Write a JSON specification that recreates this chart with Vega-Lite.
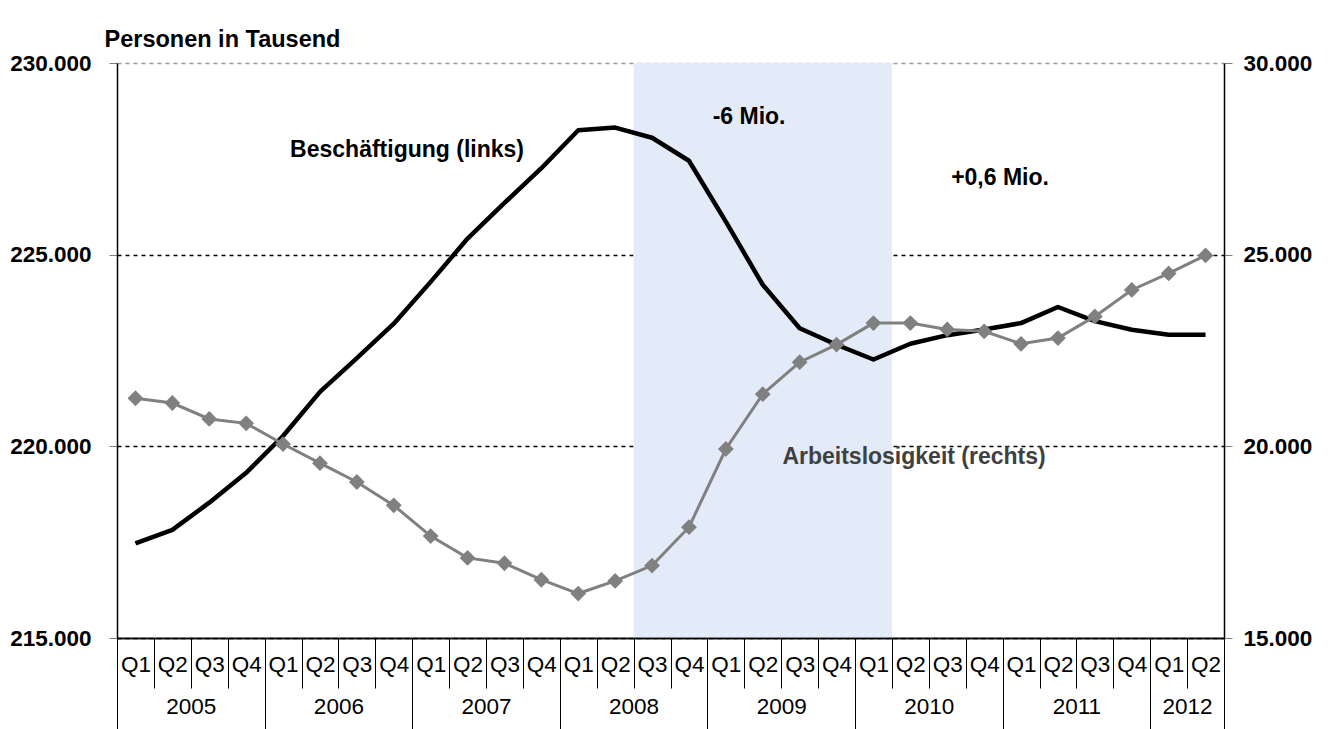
{
  "$schema": "https://vega.github.io/schema/vega-lite/v6.json",
  "width": 1107,
  "height": 575,
  "autosize": {"type": "none"},
  "padding": {"left": 117, "top": 63, "right": 106, "bottom": 91},
  "background": "white",
  "config": {
    "view": {"stroke": null},
    "font": "Liberation Sans",
    "text": {"font": "Liberation Sans", "fontWeight": "bold", "fontSize": 23}
  },
  "datasets": {
    "quartale": [
      {"idx": 0, "jahr": 2005, "quartal": "Q1", "beschaeftigung": 217470, "arbeitslosigkeit": 21255},
      {"idx": 1, "jahr": 2005, "quartal": "Q2", "beschaeftigung": 217820, "arbeitslosigkeit": 21130},
      {"idx": 2, "jahr": 2005, "quartal": "Q3", "beschaeftigung": 218530, "arbeitslosigkeit": 20715},
      {"idx": 3, "jahr": 2005, "quartal": "Q4", "beschaeftigung": 219310, "arbeitslosigkeit": 20600},
      {"idx": 4, "jahr": 2006, "quartal": "Q1", "beschaeftigung": 220270, "arbeitslosigkeit": 20060},
      {"idx": 5, "jahr": 2006, "quartal": "Q2", "beschaeftigung": 221420, "arbeitslosigkeit": 19560},
      {"idx": 6, "jahr": 2006, "quartal": "Q3", "beschaeftigung": 222300, "arbeitslosigkeit": 19070},
      {"idx": 7, "jahr": 2006, "quartal": "Q4", "beschaeftigung": 223200, "arbeitslosigkeit": 18460},
      {"idx": 8, "jahr": 2007, "quartal": "Q1", "beschaeftigung": 224290, "arbeitslosigkeit": 17660},
      {"idx": 9, "jahr": 2007, "quartal": "Q2", "beschaeftigung": 225420, "arbeitslosigkeit": 17090},
      {"idx": 10, "jahr": 2007, "quartal": "Q3", "beschaeftigung": 226350, "arbeitslosigkeit": 16950},
      {"idx": 11, "jahr": 2007, "quartal": "Q4", "beschaeftigung": 227255, "arbeitslosigkeit": 16520},
      {"idx": 12, "jahr": 2008, "quartal": "Q1", "beschaeftigung": 228245, "arbeitslosigkeit": 16160},
      {"idx": 13, "jahr": 2008, "quartal": "Q2", "beschaeftigung": 228315, "arbeitslosigkeit": 16490},
      {"idx": 14, "jahr": 2008, "quartal": "Q3", "beschaeftigung": 228050, "arbeitslosigkeit": 16890},
      {"idx": 15, "jahr": 2008, "quartal": "Q4", "beschaeftigung": 227450, "arbeitslosigkeit": 17890},
      {"idx": 16, "jahr": 2009, "quartal": "Q1", "beschaeftigung": 225860, "arbeitslosigkeit": 19930},
      {"idx": 17, "jahr": 2009, "quartal": "Q2", "beschaeftigung": 224215, "arbeitslosigkeit": 21360},
      {"idx": 18, "jahr": 2009, "quartal": "Q3", "beschaeftigung": 223080, "arbeitslosigkeit": 22195},
      {"idx": 19, "jahr": 2009, "quartal": "Q4", "beschaeftigung": 222650, "arbeitslosigkeit": 22655},
      {"idx": 20, "jahr": 2010, "quartal": "Q1", "beschaeftigung": 222265, "arbeitslosigkeit": 23215},
      {"idx": 21, "jahr": 2010, "quartal": "Q2", "beschaeftigung": 222675, "arbeitslosigkeit": 23215},
      {"idx": 22, "jahr": 2010, "quartal": "Q3", "beschaeftigung": 222900, "arbeitslosigkeit": 23050},
      {"idx": 23, "jahr": 2010, "quartal": "Q4", "beschaeftigung": 223050, "arbeitslosigkeit": 23000},
      {"idx": 24, "jahr": 2011, "quartal": "Q1", "beschaeftigung": 223215, "arbeitslosigkeit": 22675},
      {"idx": 25, "jahr": 2011, "quartal": "Q2", "beschaeftigung": 223635, "arbeitslosigkeit": 22825},
      {"idx": 26, "jahr": 2011, "quartal": "Q3", "beschaeftigung": 223265, "arbeitslosigkeit": 23390},
      {"idx": 27, "jahr": 2011, "quartal": "Q4", "beschaeftigung": 223040, "arbeitslosigkeit": 24080},
      {"idx": 28, "jahr": 2012, "quartal": "Q1", "beschaeftigung": 222910, "arbeitslosigkeit": 24510},
      {"idx": 29, "jahr": 2012, "quartal": "Q2", "beschaeftigung": 222910, "arbeitslosigkeit": 24980}
    ],
    "krise": [
      {"von": 13.5, "bis": 20.5}
    ]
  },
  "layer": [
    {
      "layer": [
        {
          "data": {"name": "krise"},
          "mark": {"type": "rect", "fill": "#e3ebf8"},
          "encoding": {
            "x": {
              "field": "von", "type": "quantitative",
              "scale": {"domain": [-0.5, 29.5], "nice": false, "zero": false},
              "axis": {
                "orient": "bottom",
                "values": [-0.5, 0.5, 1.5, 2.5, 3.5, 4.5, 5.5, 6.5, 7.5, 8.5, 9.5, 10.5, 11.5, 12.5, 13.5, 14.5, 15.5, 16.5, 17.5, 18.5, 19.5, 20.5, 21.5, 22.5, 23.5, 24.5, 25.5, 26.5, 27.5, 28.5, 29.5],
                "tickCount": 40,
                "labelExpr": "datum.value < 29 ? 'Q' + ((round(datum.value + 0.5) % 4) + 1) : ''",
                "labelOffset": 18.45,
                "labelPadding": -35,
                "labelFlush": false,
                "labelBound": false,
                "labelOverlap": false,
                "labelFont": "Liberation Sans",
                "labelFontSize": 22.5,
                "labelColor": "black",
                "tickSize": 50,
                "tickColor": "black",
                "tickWidth": 1,
                "domainColor": "black",
                "domainWidth": 1.5,
                "grid": false,
                "title": null,
                "zindex": 1
              }
            },
            "x2": {"field": "bis"}
          }
        },
        {
          "data": {"name": "quartale"},
          "mark": {"type": "line", "color": "black", "strokeWidth": 4.5, "strokeJoin": "round"},
          "encoding": {
            "x": {"field": "idx", "type": "quantitative", "scale": {"domain": [-0.5, 29.5], "nice": false, "zero": false}},
            "y": {
              "field": "beschaeftigung", "type": "quantitative",
              "scale": {"domain": [215000, 230000], "nice": false, "zero": false},
              "axis": {
                "orient": "left",
                "values": [215000, 220000, 225000, 230000],
                "labelExpr": "replace(format(datum.value, ','), ',', '.')",
                "labelFont": "Liberation Sans",
                "labelFontSize": 22.5,
                "labelFontWeight": "bold",
                "labelColor": "black",
                "labelPadding": 18,
                "tickSize": 8,
                "tickColor": "#808080",
                "domainColor": "black",
                "domainWidth": 1.5,
                "grid": true,
                "gridColor": {"condition": {"test": "datum.value === 230000", "value": "#9a9a9a"}, "value": "black"},
                "gridDash": [4, 4],
                "gridWidth": 1.6,
                "title": "Personen in Tausend",
                "titleAngle": 0,
                "titleX": -13,
                "titleY": -24,
                "titleAlign": "left",
                "titleBaseline": "middle",
                "titleFont": "Liberation Sans",
                "titleFontSize": 23.5,
                "titleFontWeight": "bold",
                "titleColor": "black"
              }
            }
          }
        },
        {
          "data": {"values": [{}]},
          "mark": {"type": "text", "color": "black"},
          "encoding": {
            "x": {"datum": 7.36, "type": "quantitative"},
            "y": {"datum": 227730, "type": "quantitative"},
            "text": {"value": "Beschäftigung (links)"}
          }
        },
        {
          "data": {"values": [{}]},
          "mark": {"type": "text", "color": "black"},
          "encoding": {
            "x": {"datum": 16.63, "type": "quantitative"},
            "y": {"datum": 228600, "type": "quantitative"},
            "text": {"value": "-6 Mio."}
          }
        },
        {
          "data": {"values": [{}]},
          "mark": {"type": "text", "color": "black"},
          "encoding": {
            "x": {"datum": 23.43, "type": "quantitative"},
            "y": {"datum": 226990, "type": "quantitative"},
            "text": {"value": "+0,6 Mio."}
          }
        },
        {
          "data": {"values": [{}]},
          "mark": {"type": "text", "color": "#404040"},
          "encoding": {
            "x": {"datum": 21.1, "type": "quantitative"},
            "y": {"datum": 219730, "type": "quantitative"},
            "text": {"value": "Arbeitslosigkeit (rechts)"}
          }
        }
      ]
    },
    {
      "data": {"name": "quartale"},
      "encoding": {
        "x": {
          "field": "idx", "type": "quantitative",
          "scale": {"domain": [-0.5, 29.5], "nice": false, "zero": false},
          "axis": {
            "orient": "bottom",
            "values": [-0.5, 3.5, 7.5, 11.5, 15.5, 19.5, 23.5, 27.5, 29.5],
            "tickCount": 20,
            "labelExpr": "datum.value < 29 ? '' + (2005 + round((datum.value + 0.5) / 4)) : ''",
            "labelOffset": {"condition": {"test": "datum.value === 27.5", "value": 36.9}, "value": 73.8},
            "labelPadding": -38,
            "labelFlush": false,
            "labelBound": false,
            "labelOverlap": false,
            "labelFont": "Liberation Sans",
            "labelFontSize": 22.5,
            "labelColor": "black",
            "tickSize": 95,
            "tickColor": "black",
            "tickWidth": 1,
            "domainColor": "black",
            "domainWidth": 1.5,
            "grid": false,
            "title": null,
            "zindex": 1
          }
        },
        "y": {
          "field": "arbeitslosigkeit", "type": "quantitative",
          "scale": {"domain": [15000, 30000], "nice": false, "zero": false},
          "axis": {
            "orient": "right",
            "values": [15000, 20000, 25000, 30000],
            "labelExpr": "replace(format(datum.value, ','), ',', '.')",
            "labelFont": "Liberation Sans",
            "labelFontSize": 22.5,
            "labelFontWeight": "bold",
            "labelColor": "black",
            "labelPadding": 11,
            "tickSize": 8,
            "tickColor": "#808080",
            "domainColor": "black",
            "domainWidth": 1.5,
            "grid": false,
            "title": null
          }
        }
      },
      "layer": [
        {"mark": {"type": "line", "color": "#808080", "strokeWidth": 3}},
        {"mark": {"type": "point", "shape": "diamond", "filled": true, "color": "#808080", "size": 250, "opacity": 1}}
      ]
    }
  ],
  "resolve": {"scale": {"y": "independent"}, "axis": {"x": "independent"}}
}
